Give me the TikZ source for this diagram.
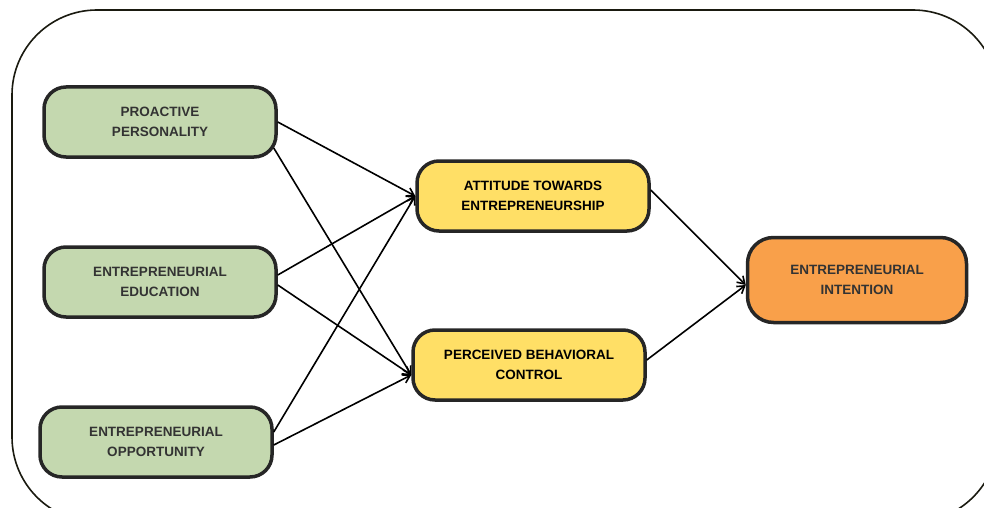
\documentclass[tikz,border=0pt]{standalone}
\usepackage{fontspec}
\setmainfont{Liberation Sans}
\usepackage{xcolor}
\usetikzlibrary{arrows.meta, positioning, calc}

\definecolor{predgreen}{HTML}{C4D8AF}
\definecolor{medyellow}{HTML}{FFDF66}
\definecolor{outorange}{HTML}{F9A04A}
\definecolor{boxline}{HTML}{262626}
\definecolor{frameline}{HTML}{1A1A10}

\begin{document}
\begin{tikzpicture}[x=1pt, y=-1pt,
  box/.style={draw=boxline, line width=3.5pt, rounded corners=22pt, minimum width=232pt, minimum height=70pt, align=center, font=\fontsize{13.5}{20}\selectfont\bfseries},
  pred/.style={box, fill=predgreen, text=black!80},
  med/.style={box, fill=medyellow, text=black},
  outc/.style={box, fill=outorange, text=black!80, minimum width=219pt, minimum height=85pt, rounded corners=26pt},
  arr/.style={-{Straight Barb[length=7pt, width=9pt]}, line width=1.6pt, black},
]
\useasboundingbox (0,0) rectangle (984,508);

% outer frame
\begin{scope}
  \clip (0,0) rectangle (984,508);
  \draw[frameline, line width=1.6pt, rounded corners=85pt] (12,10) rectangle (998,522);
\end{scope}

% predictors
\node[pred] (pro) at (160,122) {PROACTIVE\\PERSONALITY};
\node[pred] (edu) at (160,282) {ENTREPRENEURIAL\\EDUCATION};
\node[pred] (opp) at (156,442) {ENTREPRENEURIAL\\OPPORTUNITY};

% mediators
\node[med] (att) at (533,196) {ATTITUDE TOWARDS\\ENTREPRENEURSHIP};
\node[med] (perc) at (529,365) {PERCEIVED BEHAVIORAL\\CONTROL};

% outcome
\node[outc] (int) at (857,280) {ENTREPRENEURIAL\\INTENTION};

% paths
\draw[arr] (pro.east) -- (att.west);
\draw[arr] ($(pro.east)+(-4,26)$) -- ($(perc.west)+(0,10)$);
\draw[arr] ($(edu.east)+(0,-7)$) -- (att.west);
\draw[arr] ($(edu.east)+(0,3)$) -- ($(perc.west)+(0,10)$);
\draw[arr] ($(opp.east)+(0,-10)$) -- (att.west);
\draw[arr] ($(opp.east)+(0,3)$) -- ($(perc.west)+(0,10)$);
\draw[arr] ($(att.east)+(0,-6)$) -- ($(int.west)+(0,5)$);
\draw[arr] ($(perc.east)+(0,-5)$) -- ($(int.west)+(0,5)$);

\end{tikzpicture}
\end{document}
